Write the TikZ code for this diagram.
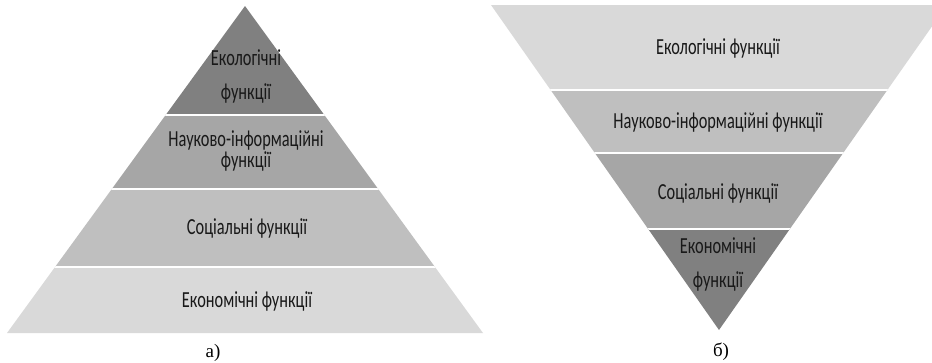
\documentclass[tikz,border=0pt]{standalone}
\usepackage{fontspec}
\newfontfamily\lblfont[FakeStretch=0.71]{Carlito}
\newfontfamily\capfont{Liberation Serif}
\definecolor{gA}{HTML}{808080}
\definecolor{gB}{HTML}{A6A6A6}
\definecolor{gC}{HTML}{BFBFBF}
\definecolor{gD}{HTML}{D9D9D9}
\tikzset{
  lbl/.style={anchor=base, inner sep=0pt, font=\lblfont\fontsize{23}{26}\selectfont, text=black!90},
  capt/.style={anchor=base, inner sep=0pt, font=\capfont\fontsize{19}{22}\selectfont},
  gap/.style={draw=white, line width=2pt}
}
\begin{document}
\begin{tikzpicture}[x=1pt,y=-1pt]
\useasboundingbox (0,0) rectangle (932,362);
\clip (0,0) rectangle (932,362);
% ---- left pyramid (a)
\begin{scope}
  \clip (245,6) -- (7,333) -- (483,333) -- cycle;
  \fill[gA] (0,0) rectangle (500,115);
  \fill[gB] (0,115) rectangle (500,189);
  \fill[gC] (0,189) rectangle (500,267);
  \fill[gD] (0,267) rectangle (500,334);
  \draw[gap] (0,115) -- (500,115);
  \draw[gap] (0,189) -- (500,189);
  \draw[gap] (0,267) -- (500,267);
\end{scope}
\node[lbl] (la1) at (246,65) {Екологічні};
\node[lbl] (la2) at (246,99) {функції};
\node[lbl] (lb1) at (246,146) {Науково-інформаційні};
\node[lbl] (lb2) at (246,167) {функції};
\node[lbl] (lc) at (247,234) {Соціальні функції};
\node[lbl] (ld) at (247,307) {Економічні функції};
\node[capt] (capa) at (213,357) {а)};
% ---- right inverted pyramid (b)
\begin{scope}
  \clip (491,5) -- (947,5) -- (719,330) -- cycle;
  \fill[gD] (480,0) rectangle (960,90);
  \fill[gC] (480,90) rectangle (960,153);
  \fill[gB] (480,153) rectangle (960,229);
  \fill[gA] (480,229) rectangle (960,331);
  \draw[gap] (480,90) -- (960,90);
  \draw[gap] (480,153) -- (960,153);
  \draw[gap] (480,229) -- (960,229);
\end{scope}
\node[lbl] (ra) at (718,54) {Екологічні функції};
\node[lbl] (rb) at (718,128) {Науково-інформаційні функції};
\node[lbl] (rc) at (718,199) {Соціальні функції};
\node[lbl] (rd1) at (718,253) {Економічні};
\node[lbl] (rd2) at (718,287) {функції};
\node[capt] (capb) at (721,356) {б)};
\end{tikzpicture}
\end{document}
